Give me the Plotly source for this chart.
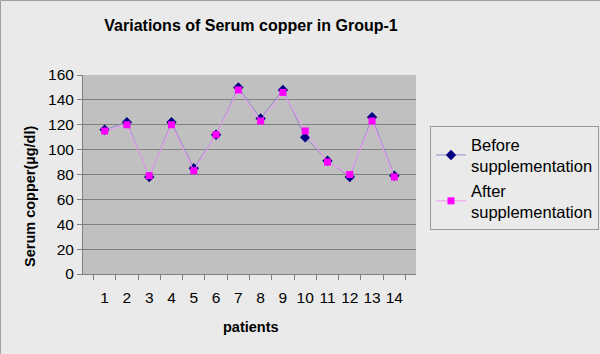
import plotly.graph_objects as go

patients = [str(i) for i in range(1, 15)]
before = [116, 122, 78, 122, 85, 112, 150, 125, 148, 110, 91, 78, 126, 79]
after = [115, 120, 79, 120, 83, 112, 148, 123, 146, 115, 90, 80, 123, 78]
y_ticks = [0, 20, 40, 60, 80, 100, 120, 140, 160]

W, H = 600, 354
L, R, T, B = 83, 184, 75, 80
pw, ph = W - L - R, H - T - B

fig = go.Figure()
fig.add_trace(go.Scatter(
    x=patients, y=before, mode="lines+markers",
    name="Before<br>supplementation",
    line=dict(color="#8F8FC8", width=1),
    marker=dict(symbol="diamond", size=8, color="#000080"),
))
fig.add_trace(go.Scatter(
    x=patients, y=after, mode="lines+markers",
    name="After<br>supplementation",
    line=dict(color="#F59AF5", width=1),
    marker=dict(symbol="square", size=7, color="#FF00FF"),
))

font = "Liberation Sans, Arial, sans-serif"
px0, px1 = -L / pw + 0.5 / pw, 1 + R / pw
py0, py1 = -B / ph, 1 + (T - 0.5) / ph
fig.update_layout(
    width=W, height=H,
    margin=dict(l=L, r=R, t=T, b=B, autoexpand=False),
    paper_bgcolor="#EAEAEA",
    plot_bgcolor="#C0C0C0",
    font=dict(family=font, size=15.5, color="#000000"),
    title=dict(text="<b>Variations of Serum copper in Group-1</b>",
               x=251 / W, xanchor="center",
               y=1 - 25 / H, yanchor="middle",
               font=dict(size=16, family=font)),
    showlegend=True,
    legend=dict(
        x=(430 - L) / pw, xanchor="left",
        y=1 - (126 - T) / ph, yanchor="top",
        bgcolor="#EAEAEA", bordercolor="#999999", borderwidth=1,
        font=dict(size=16.5, family=font),
        tracegroupgap=0, itemwidth=30,
    ),
    xaxis=dict(
        type="category", tickson="boundaries", ticks="outside", ticklen=5,
        tickcolor="#808080", showgrid=False, showline=True, linecolor="#808080",
        tickangle=0, automargin=False, ticklabelstandoff=9,
        tickfont=dict(size=15.5), zeroline=False,
    ),
    yaxis=dict(
        range=[0, 160], tickvals=y_ticks, ticks="outside", ticklen=5,
        tickcolor="#808080", showgrid=True, gridcolor="#808080", gridwidth=1,
        showline=True, linecolor="#808080", zeroline=False, automargin=False,
        tickfont=dict(size=15.5),
    ),
    annotations=[
        dict(text="<b>patients</b>", xref="paper", yref="paper",
             x=(251 - L) / pw, y=-(327 - T - ph) / ph, xanchor="center", yanchor="middle",
             showarrow=False, font=dict(size=14.5, family=font)),
        dict(text="<b>Serum copper(µg/dl)</b>", xref="paper", yref="paper",
             x=-(L - 30) / pw, y=1 - (197 - T) / ph, xanchor="center", yanchor="middle",
             textangle=-90, showarrow=False, font=dict(size=14.5, family=font)),
    ],
    shapes=[
        dict(type="line", xref="paper", yref="paper", x0=px0, x1=px0, y0=py0, y1=py1,
             line=dict(color="#A0A0A0", width=1), layer="below"),
        dict(type="line", xref="paper", yref="paper", x0=px0, x1=px1, y0=py1, y1=py1,
             line=dict(color="#A0A0A0", width=1), layer="below"),
    ],
)

fig.write_html(
    "out.html",
    config={"displayModeBar": False},
    post_script="document.body.style.margin='0';document.body.style.background='#EAEAEA';",
)
